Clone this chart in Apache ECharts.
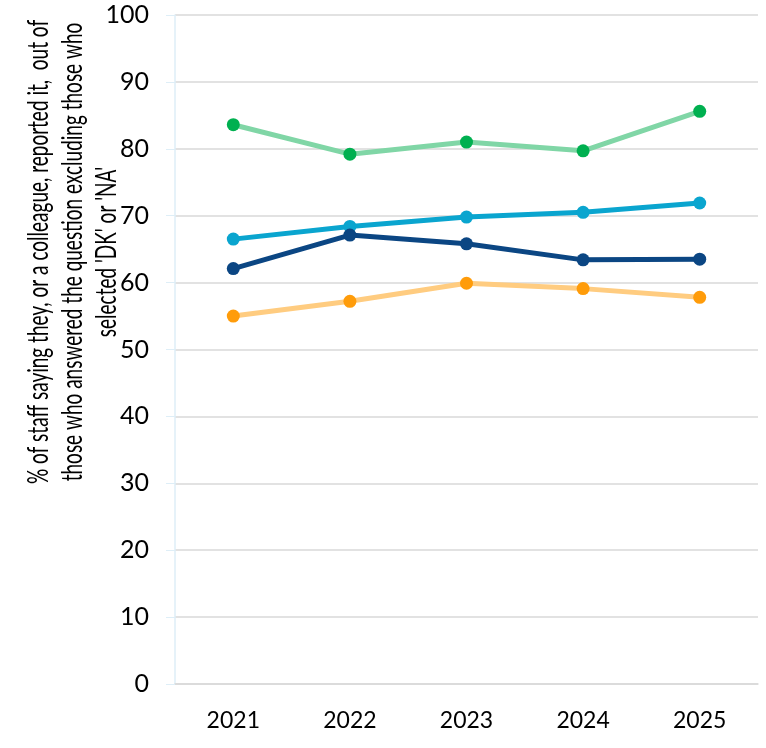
<!DOCTYPE html>
<html>
<head>
<meta charset="utf-8">
<script src="https://cdn.jsdelivr.net/npm/echarts@6/dist/echarts.min.js"></script>
<style>
  html, body { margin: 0; padding: 0; background: #fff; }
  #chart-container { width: 766px; height: 748px; }
</style>
</head>
<body>
<div id="chart-container"></div>
<script>
// Data
const years = ['2021', '2022', '2023', '2024', '2025'];
const greenValues = [83.6, 79.2, 81.0, 79.7, 85.6];
const lightBlueValues = [66.5, 68.4, 69.8, 70.5, 71.9];
const darkBlueValues = [62.1, 67.1, 65.8, 63.4, 63.5];
const orangeValues = [55.0, 57.2, 59.9, 59.1, 57.8];

const chartContainer = document.getElementById('chart-container');
const myChart = echarts.init(chartContainer);

const font = 'Lato, "Noto Sans", sans-serif';

function lineSeries(name, data, lineColor, dotColor) {
  return {
    name: name,
    type: 'line',
    data: data,
    symbol: 'circle',
    symbolSize: 13,
    lineStyle: { color: lineColor, width: 5 },
    itemStyle: { color: dotColor },
    emphasis: { disabled: true }
  };
}

const option = {
  animation: false,
  grid: { left: 175, right: 8, top: 15, bottom: 64 },
  xAxis: {
    type: 'category',
    data: years,
    boundaryGap: true,
    axisLine: { lineStyle: { color: '#d9d9d9', width: 1.5 } },
    axisTick: { show: false },
    axisLabel: { color: '#000', fontSize: 23, fontFamily: font, margin: 25 }
  },
  yAxis: {
    type: 'value',
    min: 0,
    max: 100,
    interval: 10,
    axisLine: { show: true, lineStyle: { color: '#deeef7', width: 1.5 } },
    axisTick: { show: true, length: 9, lineStyle: { color: '#deeef7' } },
    axisLabel: { color: '#000', fontSize: 25, fontFamily: font, margin: 26 },
    splitLine: { lineStyle: { color: '#d9d9d9', width: 1.5 } }
  },
  graphic: [{
    type: 'text',
    x: 73,
    y: 252,
    rotation: Math.PI / 2,
    scaleX: 0.95,
    scaleY: 1.4,
    style: {
      text: "% of staff saying they, or a colleague, reported it,  out of\nthose who answered the question excluding those who\nselected 'DK' or 'NA'",
      fill: '#000',
      font: '20px Lato, "Noto Sans", sans-serif',
      align: 'center',
      verticalAlign: 'middle',
      lineHeight: 24.5
    }
  }],
  series: [
    lineSeries('Green', greenValues, '#80d6a6', '#00b050'),
    lineSeries('Light blue', lightBlueValues, '#0aa5cf', '#0aa5cf'),
    lineSeries('Dark blue', darkBlueValues, '#0b4683', '#0b4683'),
    lineSeries('Orange', orangeValues, '#ffcc80', '#ff9c0a')
  ]
};

myChart.setOption(option);
</script>
</body>
</html>
